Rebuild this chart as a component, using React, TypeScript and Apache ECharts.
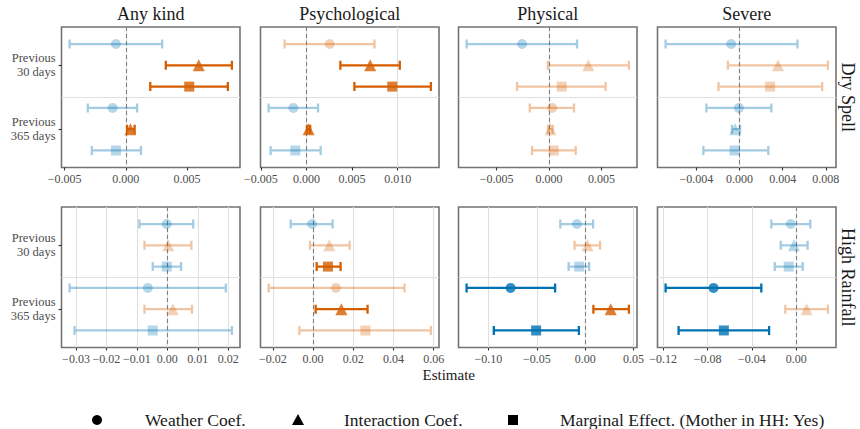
import React, { useEffect, useRef } from "react";
import * as echarts from "echarts";

// Facets
const outcomes = ["Any kind", "Psychological", "Physical", "Severe"];
const weatherEvents = ["Dry Spell", "High Rainfall"];
const windows = ["Previous\n30 days", "Previous\n365 days"];
const terms = ["Weather Coef.", "Interaction Coef.", "Marginal Effect. (Mother in HH: Yes)"];

// Each panel: rows ordered 30-day (weather, interaction, marginal), then 365-day (same order).
// Every row is [estimate, lower CI, upper CI].
const dryAnyKind = [
  [-0.00081, -0.0046, 0.00297],
  [0.00597, 0.00327, 0.00868],
  [0.00519, 0.002, 0.00835],
  [-0.00108, -0.00311, 0.00092],
  [0.00038, 0.0001, 0.00072],
  [-0.00081, -0.00278, 0.00124],
];
const dryPsych = [
  [0.00254, -0.0024, 0.00745],
  [0.00698, 0.00371, 0.01023],
  [0.0094, 0.00525, 0.01364],
  [-0.00145, -0.00416, 0.00126],
  [0.00023, 0.00005, 0.0004],
  [-0.00123, -0.00394, 0.00155],
];
const dryPhysical = [
  [-0.00257, -0.00787, 0.00267],
  [0.00375, -0.00012, 0.00762],
  [0.00121, -0.00305, 0.0054],
  [0.00029, -0.00184, 0.00238],
  [0.00013, -0.0001, 0.00035],
  [0.00045, -0.00162, 0.00254],
];
const drySevere = [
  [-0.00077, -0.00685, 0.00537],
  [0.00357, -0.00108, 0.00819],
  [0.00283, -0.00195, 0.00766],
  [-0.00006, -0.00307, 0.00295],
  [-0.0004, -0.0007, 0.00005],
  [-0.00046, -0.00335, 0.00267],
];
const rainAnyKind = [
  [-0.0002, -0.0092, 0.0085],
  [0.0003, -0.0075, 0.0079],
  [-0.0002, -0.0048, 0.0045],
  [-0.0064, -0.0321, 0.0192],
  [0.0018, -0.0075, 0.0081],
  [-0.0048, -0.0305, 0.0212],
];
const rainPsych = [
  [-0.0005, -0.0111, 0.0097],
  [0.0081, -0.0015, 0.0182],
  [0.0074, 0.0018, 0.0137],
  [0.0114, -0.0221, 0.0455],
  [0.0141, 0.0013, 0.0271],
  [0.026, -0.0068, 0.0586],
];
const rainPhysical = [
  [-0.0085, -0.0257, 0.0082],
  [0.0024, -0.011, 0.0154],
  [-0.0062, -0.0171, 0.0041],
  [-0.0771, -0.1226, -0.0311],
  [0.0264, 0.0085, 0.0452],
  [-0.0507, -0.0945, -0.0065],
];
const rainSevere = [
  [-0.005, -0.0225, 0.0126],
  [-0.0021, -0.014, 0.0102],
  [-0.0068, -0.0194, 0.0058],
  [-0.0746, -0.1178, -0.0315],
  [0.0093, -0.0099, 0.0285],
  [-0.0653, -0.1061, -0.0245],
];

// Tick positions per panel
const dryTicks = [
  [-0.005, 0, 0.005],
  [-0.005, 0, 0.005, 0.01],
  [-0.005, 0, 0.005],
  [-0.004, 0, 0.004, 0.008],
];
const rainTicks = [
  [-0.03, -0.02, -0.01, 0, 0.01, 0.02],
  [-0.02, 0, 0.02, 0.04, 0.06],
  [-0.1, -0.05, 0, 0.05],
  [-0.12, -0.08, -0.04, 0],
];
const tickDecimals = [3, 2];

const panels = [
  [dryAnyKind, dryPsych, dryPhysical, drySevere],
  [rainAnyKind, rainPsych, rainPhysical, rainSevere],
];
const panelTicks = [dryTicks, rainTicks];

// Layout
const FONT = "Liberation Serif";
const colLeft = [61.5, 260.5, 458.5, 657.5];
const colWidth = 178.5;
const rowTop = [27, 207];
const rowHeight = 140.5;

const ORANGE = "#D55E00";
const BLUE = "#0072B2";
const ORANGE_LIGHT = "rgba(213,94,0,0.36)";
const BLUE_LIGHT = "rgba(0,114,178,0.36)";

function markColor(row: number[]) {
  const [est, lo, hi] = row;
  const significant = lo > 0 || hi < 0;
  if (est >= 0) return significant ? ORANGE : ORANGE_LIGHT;
  return significant ? BLUE : BLUE_LIGHT;
}

// Vertical slot of a row: window centre plus dodge offset per term
function rowY(i: number) {
  const w = Math.floor(i / 3);
  const t = i % 3;
  return w + 1 + (t - 1) / 3;
}

function fmtTick(v: number, dec: number) {
  const s = Math.abs(v).toFixed(dec);
  return (v < -1e-12 ? "\u2212" : "") + s;
}

const symbols = ["circle", "triangle", "rect"];
const symbolSizes = [10, 12, 10];

function textStyle(text: string, size: number, align = "center") {
  return {
    text,
    fontFamily: FONT,
    fontSize: size,
    fill: "#1a1a1a",
    align,
    verticalAlign: "middle",
  };
}

function buildOption() {
  const grid: any[] = [];
  const xAxis: any[] = [];
  const yAxis: any[] = [];
  const series: any[] = [];

  panels.forEach((rowPanels, r) => {
    rowPanels.forEach((rows, c) => {
      const idx = r * 4 + c;
      const ticks = panelTicks[r][c];
      const dec = tickDecimals[r];
      const lo = Math.min(...rows.map((d) => d[1]));
      const hi = Math.max(...rows.map((d) => d[2]));
      const pad = (hi - lo) * 0.05;

      grid.push({
        left: colLeft[c],
        top: rowTop[r],
        width: colWidth,
        height: rowHeight,
        show: true,
        backgroundColor: "#ffffff",
        borderColor: "#737373",
        borderWidth: 1.6,
        containLabel: false,
        outerBoundsMode: "none",
      });

      xAxis.push({
        type: "value",
        gridIndex: idx,
        min: lo - pad,
        max: hi + pad,
        axisLine: { show: false, onZero: false },
        splitLine: { show: false },
        axisTick: {
          show: true,
          customValues: ticks,
          length: 3,
          lineStyle: { color: "#333333", width: 1.1 },
        },
        axisLabel: {
          show: true,
          customValues: ticks,
          hideOverlap: false,
          margin: 5,
          color: "#4d4d4d",
          fontFamily: FONT,
          fontSize: 12,
          formatter: (v: number) => fmtTick(v, dec),
        },
      });

      yAxis.push({
        type: "value",
        gridIndex: idx,
        min: 0.4,
        max: 2.6,
        inverse: true,
        axisLine: { show: false, onZero: false },
        splitLine: { show: false },
        axisTick: {
          show: c === 0,
          customValues: [1, 2],
          length: 3,
          lineStyle: { color: "#333333", width: 1.1 },
        },
        axisLabel: {
          show: c === 0,
          customValues: [1, 2],
          margin: 6,
          color: "#4d4d4d",
          fontFamily: FONT,
          fontSize: 12.5,
          lineHeight: 14,
          align: "right",
          formatter: (v: number) =>
            Math.abs(v - 1) < 1e-6 ? windows[0] : Math.abs(v - 2) < 1e-6 ? windows[1] : "",
        },
      });

      const colors = rows.map(markColor);

      // Error bars, with the panel's grid lines and window separator underneath
      series.push({
        type: "custom",
        xAxisIndex: idx,
        yAxisIndex: idx,
        z: 3,
        silent: true,
        data: rows.map((d, i) => [rowY(i), d[0], d[1], d[2]]),
        encode: { x: [1, 2, 3], y: 0 },
        renderItem: (params: any, api: any) => {
          const y = api.value(0);
          const a = api.coord([api.value(2), y]);
          const b = api.coord([api.value(3), y]);
          const cap = 4.5;
          return {
            type: "polyline",
            shape: {
              points: [
                [a[0], a[1] - cap],
                [a[0], a[1] + cap],
                [a[0], a[1]],
                [b[0], b[1]],
                [b[0], b[1] + cap],
                [b[0], b[1] - cap],
              ],
            },
            style: { stroke: colors[params.dataIndex], lineWidth: 2.3, fill: null },
          };
        },
        markLine: {
          silent: true,
          z: 1,
          symbol: ["none", "none"],
          label: { show: false },
          emphasis: { disabled: true },
          lineStyle: { color: "#e0e0e0", width: 1.1, type: "solid" },
          data: [...ticks.map((v) => ({ xAxis: v })), { yAxis: 1.5 }],
        },
      });

      // Point estimates, one series per term
      terms.forEach((term, t) => {
        const pts = [0, 1].map((w) => {
          const i = w * 3 + t;
          return { value: [rows[i][0], rowY(i)], itemStyle: { color: colors[i] } };
        });
        series.push({
          type: "scatter",
          name: term,
          xAxisIndex: idx,
          yAxisIndex: idx,
          z: 4,
          silent: true,
          symbol: symbols[t],
          symbolSize: symbolSizes[t],
          data: pts,
          markLine:
            t === 0
              ? {
                  silent: true,
                  z: 2,
                  symbol: ["none", "none"],
                  label: { show: false },
                  emphasis: { disabled: true },
                  lineStyle: { color: "#7f7f7f", width: 1.1, type: [4, 3] },
                  data: [{ xAxis: 0 }],
                }
              : undefined,
        });
      });
    });
  });

  const graphic: any[] = [];
  outcomes.forEach((name, c) => {
    graphic.push({ type: "text", x: colLeft[c] + colWidth / 2, y: 14, style: textStyle(name, 18) });
  });
  weatherEvents.forEach((name, r) => {
    graphic.push({
      type: "text",
      x: 848,
      y: rowTop[r] + rowHeight / 2,
      rotation: -Math.PI / 2,
      style: textStyle(name, 18),
    });
  });
  graphic.push({
    type: "text",
    x: colLeft[0] + (colLeft[3] + colWidth - colLeft[0]) / 2,
    y: 375,
    style: textStyle("Estimate", 15),
  });

  // Legend
  const legY = 420;
  const legSymX = [97, 298, 513];
  const legTextX = [145, 344, 560];
  graphic.push({ type: "circle", shape: { cx: legSymX[0], cy: legY, r: 5 }, style: { fill: "#000" } });
  graphic.push({
    type: "polygon",
    shape: {
      points: [
        [legSymX[1] - 6, legY + 5],
        [legSymX[1] + 6, legY + 5],
        [legSymX[1], legY - 6],
      ],
    },
    style: { fill: "#000" },
  });
  graphic.push({
    type: "rect",
    shape: { x: legSymX[2] - 5, y: legY - 5, width: 10, height: 10 },
    style: { fill: "#000" },
  });
  terms.forEach((term, t) => {
    graphic.push({ type: "text", x: legTextX[t], y: legY, style: textStyle(term, 17.5, "left") });
  });

  return {
    animation: false,
    backgroundColor: "#ffffff",
    grid,
    xAxis,
    yAxis,
    series,
    graphic,
  };
}

export default function App() {
  const ref = useRef<HTMLDivElement>(null);
  useEffect(() => {
    if (!ref.current) return;
    const chart = echarts.init(ref.current, undefined, { renderer: "svg" });
    chart.setOption(buildOption() as any);
    return () => chart.dispose();
  }, []);
  return (
    <div
      ref={ref}
      style={{ position: "absolute", left: 0, top: 0, width: 860, height: 429 }}
    />
  );
}
